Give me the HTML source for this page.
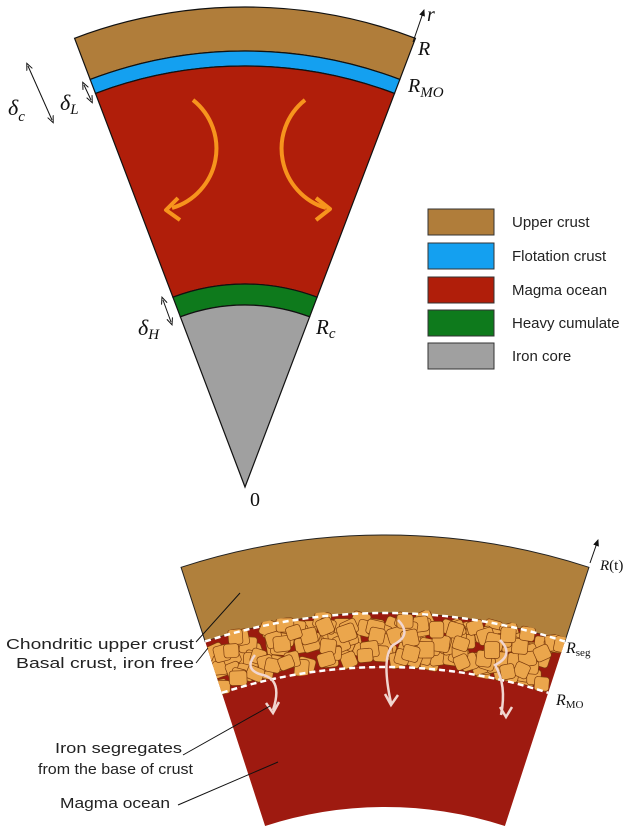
<!DOCTYPE html>
<html><head><meta charset="utf-8"><style>
html,body{margin:0;padding:0;background:#fff;}
svg{display:block;}
.lg{font-family:"Liberation Sans",sans-serif;font-size:15px;fill:#222;}
.it{font-family:"Liberation Serif",serif;font-style:italic;fill:#111;}
.sm{font-family:"Liberation Sans",sans-serif;font-size:15px;fill:#222;}
</style></head><body>
<svg id="s" width="638" height="835" viewBox="0 0 638 835" xmlns="http://www.w3.org/2000/svg">
<defs>
<marker id="ah" markerWidth="8" markerHeight="8" refX="6" refY="4" orient="auto"><path d="M0,1 L7,4 L0,7 Z" fill="#111"/></marker>
<marker id="ah2" markerWidth="8" markerHeight="8" refX="4" refY="4" orient="auto-start-reverse"><path d="M0,1 L7,4 L0,7" fill="none" stroke="#111" stroke-width="1"/></marker>
</defs>
<g id="top" stroke="#111" stroke-width="1.2"></g>
<path d="M193,100 A62,62 0 0 1 172,208" fill="none" stroke="#f7941d" stroke-width="4"/>
<path d="M178,198 L166,210 L180,220" fill="none" stroke="#f7941d" stroke-width="4" stroke-linejoin="round"/>
<path d="M305,100 A62,62 0 0 0 326,208" fill="none" stroke="#f7941d" stroke-width="4"/>
<path d="M316,198 L330,209 L316,220" fill="none" stroke="#f7941d" stroke-width="4" stroke-linejoin="round"/>
<g stroke="#333" stroke-width="1">
<rect x="428" y="209" width="66" height="26" fill="#b07d3a"/>
<rect x="428" y="243" width="66" height="26" fill="#14a0f0"/>
<rect x="428" y="277" width="66" height="26" fill="#b01e0a"/>
<rect x="428" y="310" width="66" height="26" fill="#0e7a1c"/>
<rect x="428" y="343" width="66" height="26" fill="#a0a0a0"/>
</g>
<text class="lg" x="512" y="227">Upper crust</text>
<text class="lg" x="512" y="261">Flotation crust</text>
<text class="lg" x="512" y="295">Magma ocean</text>
<text class="lg" x="512" y="328">Heavy cumulate</text>
<text class="lg" x="512" y="361">Iron core</text>
<line x1="413" y1="42" x2="424" y2="10" stroke="#111" stroke-width="1" marker-end="url(#ah)"/>
<text class="it" x="427" y="21" font-size="20">r</text>
<text class="it" x="418" y="55" font-size="20">R</text>
<text class="it" x="408" y="92" font-size="20">R<tspan font-size="15" dy="5">MO</tspan></text>
<line x1="28" y1="66" x2="52" y2="120" stroke="#111" stroke-width="1" marker-start="url(#ah2)" marker-end="url(#ah2)"/>
<text class="it" x="8" y="115" font-size="22">δ<tspan font-size="15" dy="6">c</tspan></text>
<line x1="84" y1="85" x2="91" y2="100" stroke="#111" stroke-width="1" marker-start="url(#ah2)" marker-end="url(#ah2)"/>
<text class="it" x="60" y="110" font-size="22">δ<tspan font-size="15" dy="4">L</tspan></text>
<line x1="163" y1="300" x2="171" y2="322" stroke="#111" stroke-width="1" marker-start="url(#ah2)" marker-end="url(#ah2)"/>
<text class="it" x="138" y="335" font-size="22">δ<tspan font-size="15" dy="4">H</tspan></text>
<text class="it" x="316" y="334" font-size="21">R<tspan font-size="15" dy="4">c</tspan></text>
<text x="250" y="506" font-family="Liberation Serif,serif" font-size="20" fill="#111">0</text>
<g id="bot"></g>
<line x1="590" y1="563" x2="598" y2="540" stroke="#111" stroke-width="1" marker-end="url(#ah)"/>
<text class="it" x="600" y="570" font-size="15">R<tspan font-style="normal">(t)</tspan></text>
<text class="it" x="566" y="653" font-size="16">R<tspan font-size="11" font-style="normal" dy="3">seg</tspan></text>
<text class="it" x="556" y="705" font-size="16">R<tspan font-size="11" font-style="normal" dy="3">MO</tspan></text>
<text class="sm" x="6" y="649" textLength="188" lengthAdjust="spacingAndGlyphs">Chondritic upper crust</text>
<line x1="196" y1="642" x2="240" y2="593" stroke="#111"/>
<text class="sm" x="16" y="668" textLength="178" lengthAdjust="spacingAndGlyphs">Basal crust, iron free</text>
<line x1="196" y1="663" x2="208" y2="648" stroke="#111"/>
<text class="sm" x="55" y="753" textLength="127" lengthAdjust="spacingAndGlyphs">Iron segregates</text>
<text class="sm" x="38" y="774" textLength="155" lengthAdjust="spacingAndGlyphs">from the base of crust</text>
<line x1="183" y1="755" x2="270" y2="706" stroke="#111"/>
<text class="sm" x="60" y="808" textLength="110" lengthAdjust="spacingAndGlyphs">Magma ocean</text>
<line x1="178" y1="805" x2="278" y2="762" stroke="#111"/>
</svg>
<script>
var NS="http://www.w3.org/2000/svg";
function el(p,t,a){var e=document.createElementNS(NS,t);for(var k in a)e.setAttribute(k,a[k]);p.appendChild(e);return e;}
function pt(cx,cy,r,a){a=a*Math.PI/180;return [cx+r*Math.sin(a),cy-r*Math.cos(a)];}
function band(g,cx,cy,r1,r2,h,fill,st){
 var a=pt(cx,cy,r2,-h),b=pt(cx,cy,r2,h),c=pt(cx,cy,r1,h),d=pt(cx,cy,r1,-h);
 var dd="M"+a+" A"+r2+","+r2+" 0 0 1 "+b+" L"+c+(r1>0?" A"+r1+","+r1+" 0 0 0 "+d:"")+" Z";
 return el(g,"path",Object.assign({d:dd,fill:fill},st||{}));
}
var T=document.getElementById("top"),cx=245,cy=487,h=20.8;
band(T,cx,cy,436,480,h,"#b07d3a");
band(T,cx,cy,421,436,h,"#14a0f0");
band(T,cx,cy,203,421,h,"#b01e0a");
band(T,cx,cy,182,203,h,"#0e7a1c");
band(T,cx,cy,0,182,h,"#a0a0a0");
var B=document.getElementById("bot"),bx=385,by=1195,bh=18;
band(B,bx,by,582,660,bh,"#b0803c",{stroke:"#222","stroke-width":"1"});
band(B,bx,by,528,582,bh,"#9a1a0e");
band(B,bx,by,388,528,bh,"#9e1a10");
var seed=11;function rnd(){seed=(seed*16807)%2147483647;return seed/2147483647;}
var clip=el(B,"clipPath",{id:"cb"});band(clip,bx,by,526,586,bh,"#000");
var G=el(B,"g",{"clip-path":"url(#cb)"});
for(var i=0;i<200;i++){
 var ang=-bh+2*bh*rnd(),r=533+46*rnd();
 var p=pt(bx,by,r,ang);
 var w=14+4*rnd(),hh=13+4*rnd();
 el(G,"rect",{x:p[0]-w/2,y:p[1]-hh/2,width:w,height:hh,rx:3,fill:"#eba64c",stroke:"#7a3a0c","stroke-width":"0.7",transform:"rotate("+(rnd()*50-25)+" "+p[0]+" "+p[1]+")"});
}
function arcd(r){var a=pt(bx,by,r,-bh),b=pt(bx,by,r,bh);return "M"+a+" A"+r+","+r+" 0 0 1 "+b;}
el(B,"path",{d:arcd(582),fill:"none",stroke:"#fff","stroke-width":"2.5","stroke-dasharray":"6,4"});
el(B,"path",{d:arcd(528),fill:"none",stroke:"#fff","stroke-width":"2.5","stroke-dasharray":"6,4"});
[[ "M255,655 q-12,15 8,20 q20,5 10,35","M266,703 l7,10 l6,-11"],["M398,620 q15,15 -5,25 q-12,12 -2,58","M385,694 l6,11 l7,-10"],["M500,640 q15,15 -5,25 q12,20 6,50","M500,707 l6,10 l6,-10"]].forEach(function(s){
 el(B,"path",{d:s[0],fill:"none",stroke:"#f1d6d0","stroke-width":"2.5"});
 el(B,"path",{d:s[1],fill:"none",stroke:"#f1d6d0","stroke-width":"2.5"});
});
</script>
</body></html>
